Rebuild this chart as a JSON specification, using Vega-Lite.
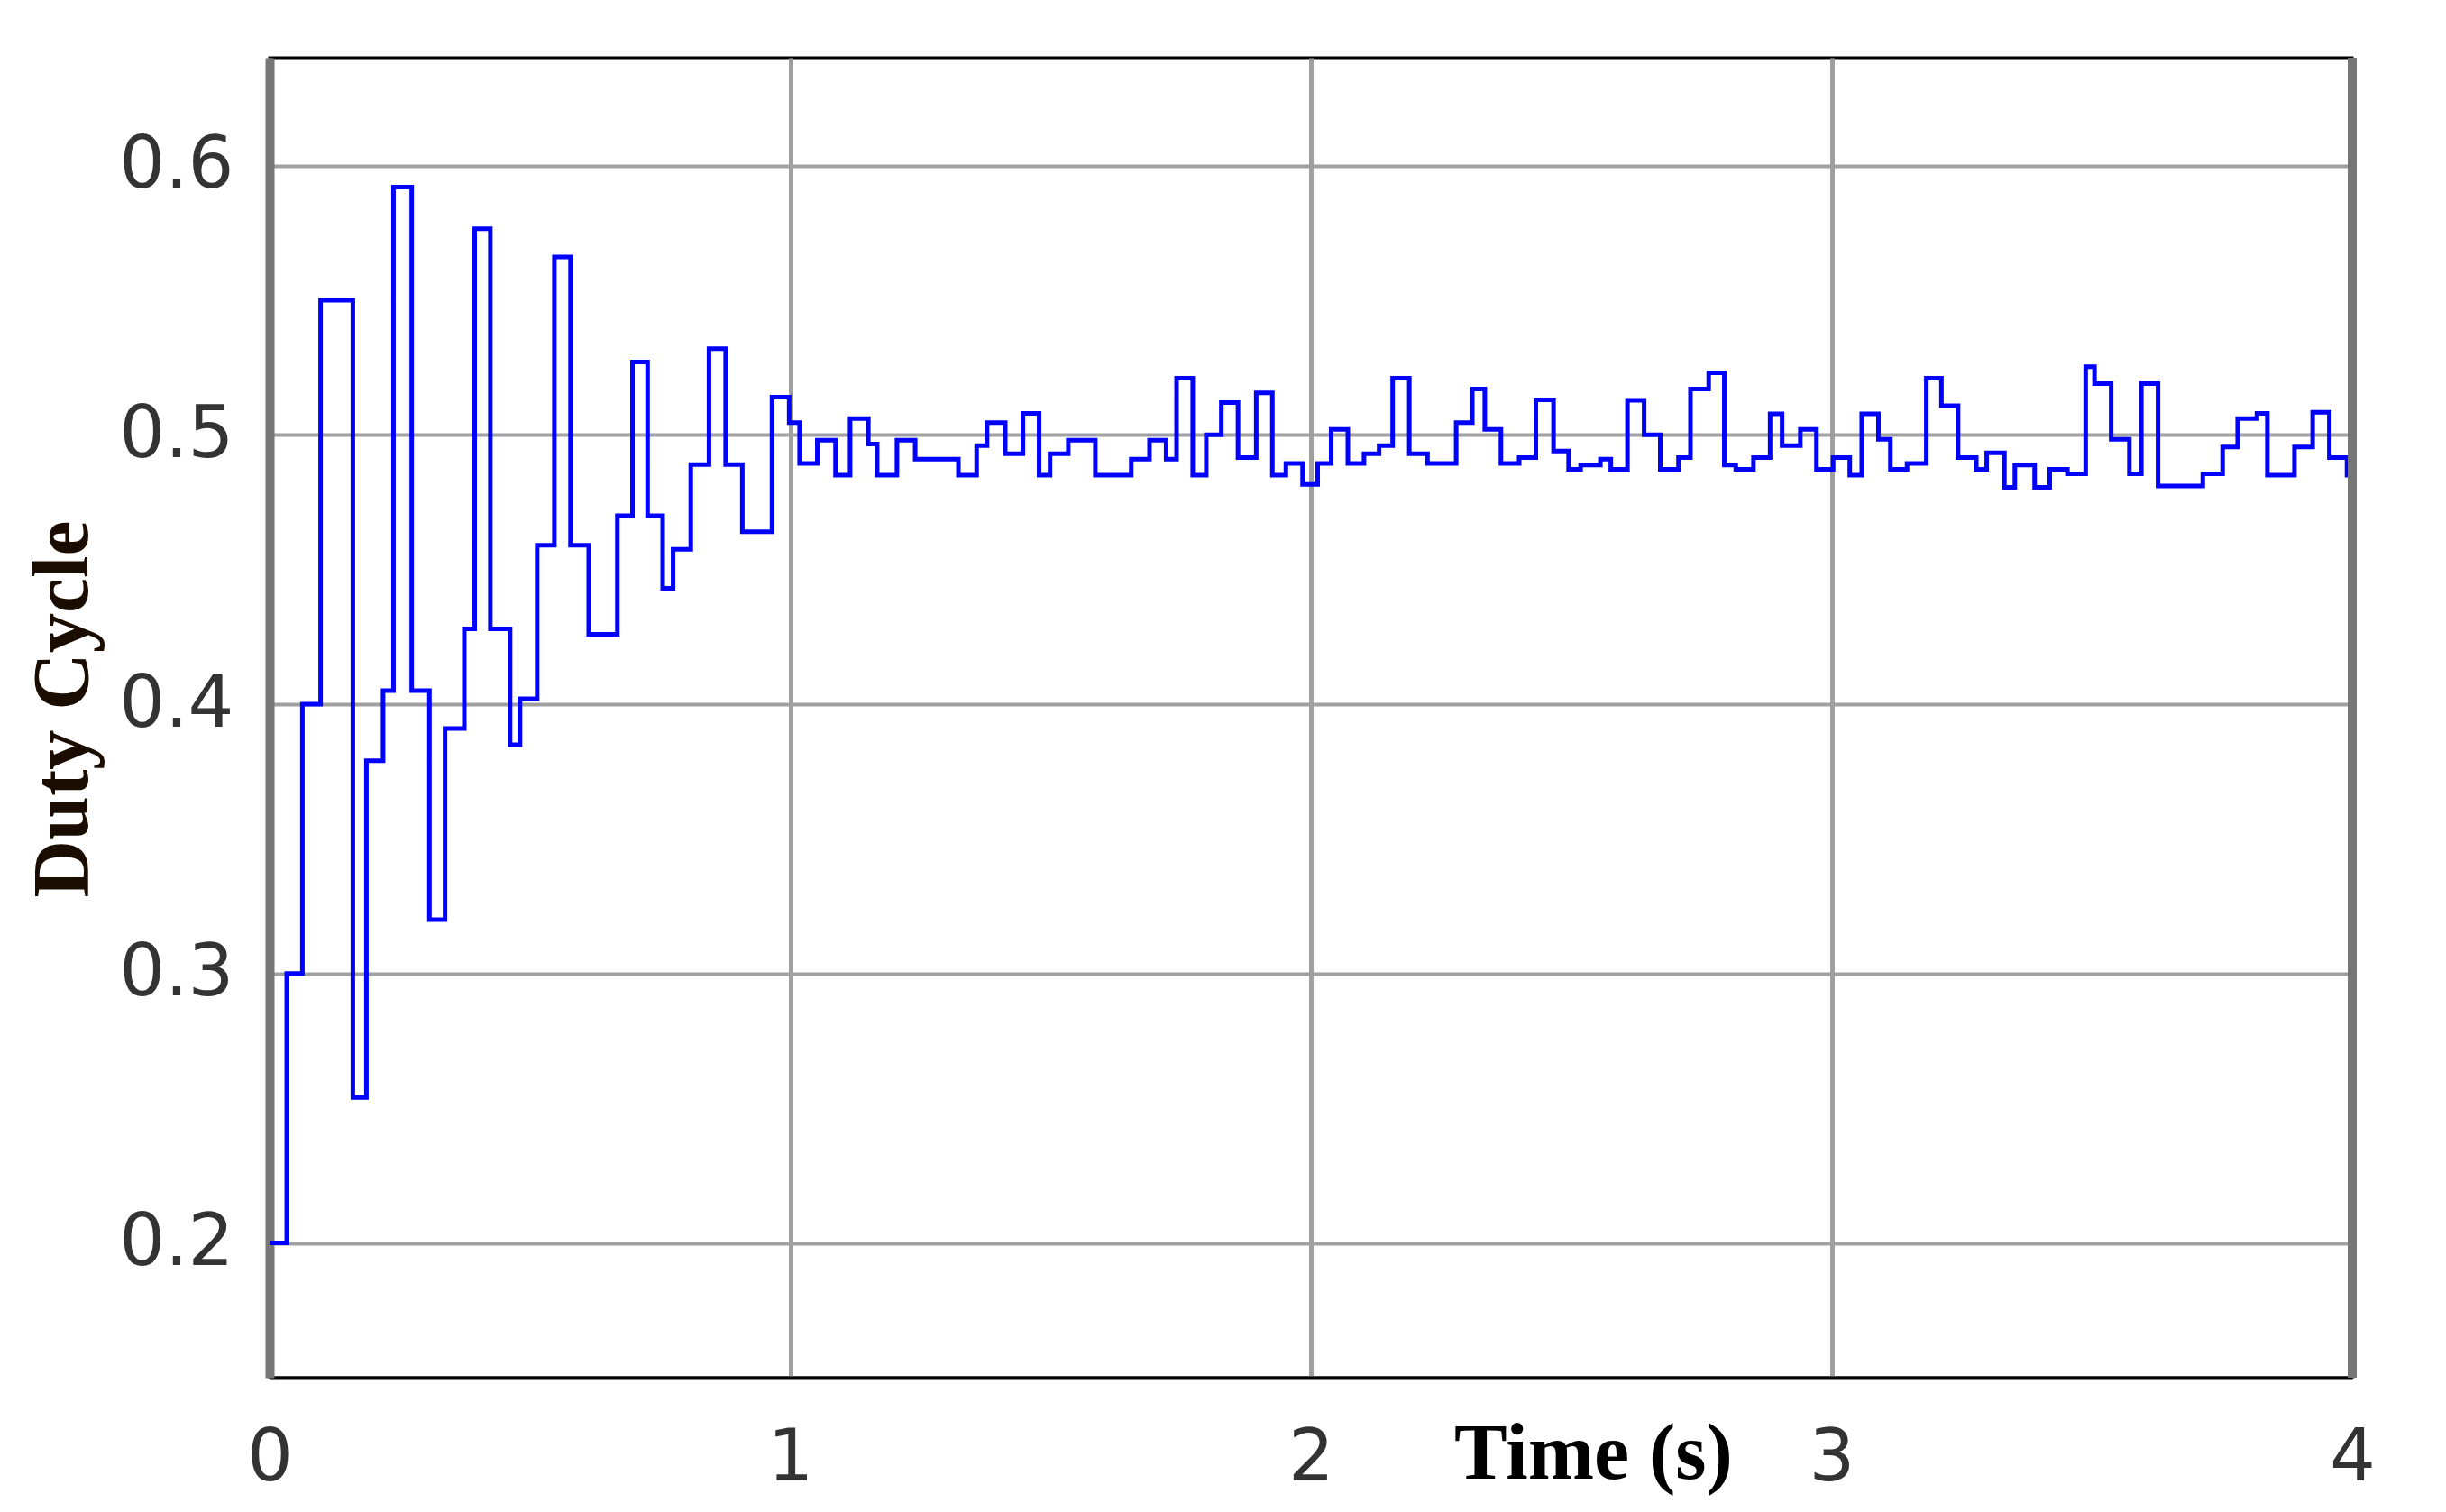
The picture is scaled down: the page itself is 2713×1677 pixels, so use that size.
{
  "$schema": "https://vega.github.io/schema/vega-lite/v6.json",
  "autosize": {"type": "none"},
  "width": 2310,
  "height": 1464,
  "padding": {"left": 299, "top": 64, "right": 104, "bottom": 149},
  "background": "white",
  "view": {"stroke": "black", "strokeWidth": 3},
  "data": {"values": [
    {"t": 0, "v": 0.2}, {"t": 0.033, "v": 0.3}, {"t": 0.063, "v": 0.4}, {"t": 0.098, "v": 0.55},
    {"t": 0.16, "v": 0.254}, {"t": 0.186, "v": 0.379}, {"t": 0.218, "v": 0.405}, {"t": 0.238, "v": 0.592},
    {"t": 0.273, "v": 0.405}, {"t": 0.307, "v": 0.32}, {"t": 0.337, "v": 0.391}, {"t": 0.374, "v": 0.428},
    {"t": 0.394, "v": 0.5765}, {"t": 0.424, "v": 0.428}, {"t": 0.462, "v": 0.385}, {"t": 0.481, "v": 0.402},
    {"t": 0.514, "v": 0.459}, {"t": 0.547, "v": 0.566}, {"t": 0.578, "v": 0.459}, {"t": 0.613, "v": 0.426},
    {"t": 0.668, "v": 0.47}, {"t": 0.697, "v": 0.527}, {"t": 0.726, "v": 0.47}, {"t": 0.755, "v": 0.443},
    {"t": 0.775, "v": 0.4575}, {"t": 0.809, "v": 0.489}, {"t": 0.844, "v": 0.532}, {"t": 0.876, "v": 0.489},
    {"t": 0.908, "v": 0.464}, {"t": 0.965, "v": 0.514}, {"t": 0.998, "v": 0.5045}, {"t": 1.018, "v": 0.4894},
    {"t": 1.052, "v": 0.498}, {"t": 1.087, "v": 0.485}, {"t": 1.115, "v": 0.506}, {"t": 1.15, "v": 0.4966},
    {"t": 1.167, "v": 0.485}, {"t": 1.205, "v": 0.498}, {"t": 1.24, "v": 0.491}, {"t": 1.323, "v": 0.485},
    {"t": 1.358, "v": 0.496}, {"t": 1.378, "v": 0.5045}, {"t": 1.413, "v": 0.493}, {"t": 1.447, "v": 0.508},
    {"t": 1.478, "v": 0.485}, {"t": 1.499, "v": 0.493}, {"t": 1.534, "v": 0.498}, {"t": 1.586, "v": 0.485},
    {"t": 1.655, "v": 0.491}, {"t": 1.69, "v": 0.498}, {"t": 1.722, "v": 0.491}, {"t": 1.742, "v": 0.521},
    {"t": 1.773, "v": 0.485}, {"t": 1.799, "v": 0.5}, {"t": 1.828, "v": 0.512}, {"t": 1.86, "v": 0.4916},
    {"t": 1.895, "v": 0.5156}, {"t": 1.926, "v": 0.485}, {"t": 1.952, "v": 0.4894}, {"t": 1.984, "v": 0.4816},
    {"t": 2.013, "v": 0.4894}, {"t": 2.039, "v": 0.502}, {"t": 2.071, "v": 0.4894}, {"t": 2.102, "v": 0.493},
    {"t": 2.131, "v": 0.496}, {"t": 2.157, "v": 0.521}, {"t": 2.189, "v": 0.493}, {"t": 2.224, "v": 0.4894},
    {"t": 2.279, "v": 0.5045}, {"t": 2.31, "v": 0.517}, {"t": 2.334, "v": 0.502}, {"t": 2.365, "v": 0.4894},
    {"t": 2.4, "v": 0.4916}, {"t": 2.432, "v": 0.513}, {"t": 2.466, "v": 0.494}, {"t": 2.495, "v": 0.4872},
    {"t": 2.518, "v": 0.4888}, {"t": 2.556, "v": 0.491}, {"t": 2.576, "v": 0.4872}, {"t": 2.608, "v": 0.5128},
    {"t": 2.64, "v": 0.5}, {"t": 2.671, "v": 0.4872}, {"t": 2.706, "v": 0.4916}, {"t": 2.729, "v": 0.517},
    {"t": 2.764, "v": 0.523}, {"t": 2.794, "v": 0.4888}, {"t": 2.816, "v": 0.4872}, {"t": 2.85, "v": 0.4916},
    {"t": 2.882, "v": 0.5078}, {"t": 2.905, "v": 0.496}, {"t": 2.94, "v": 0.502}, {"t": 2.971, "v": 0.4872},
    {"t": 3.003, "v": 0.4916}, {"t": 3.035, "v": 0.485}, {"t": 3.058, "v": 0.5078}, {"t": 3.09, "v": 0.4983},
    {"t": 3.113, "v": 0.4872}, {"t": 3.145, "v": 0.4894}, {"t": 3.182, "v": 0.521}, {"t": 3.211, "v": 0.5108},
    {"t": 3.243, "v": 0.4916}, {"t": 3.278, "v": 0.4872}, {"t": 3.298, "v": 0.4933}, {"t": 3.332, "v": 0.4805},
    {"t": 3.352, "v": 0.4888}, {"t": 3.39, "v": 0.4805}, {"t": 3.419, "v": 0.4872}, {"t": 3.453, "v": 0.4855},
    {"t": 3.488, "v": 0.5253}, {"t": 3.505, "v": 0.519}, {"t": 3.537, "v": 0.4983}, {"t": 3.572, "v": 0.4855},
    {"t": 3.595, "v": 0.519}, {"t": 3.627, "v": 0.481}, {"t": 3.713, "v": 0.4855}, {"t": 3.751, "v": 0.4955},
    {"t": 3.78, "v": 0.506}, {"t": 3.817, "v": 0.508}, {"t": 3.837, "v": 0.485}, {"t": 3.889, "v": 0.4955},
    {"t": 3.924, "v": 0.5084}, {"t": 3.956, "v": 0.4916}, {"t": 3.99, "v": 0.485}, {"t": 4.0, "v": 0.485}
  ]},
  "layer": [
    {
      "mark": {"type": "line", "interpolate": "step-after", "color": "#0000ff", "strokeWidth": 5, "clip": true},
      "encoding": {
        "x": {
          "field": "t", "type": "quantitative",
          "scale": {"domain": [0, 4], "nice": false, "zero": false},
          "axis": {
            "values": [0, 1, 2, 3, 4], "format": "d",
            "title": "Time (s)",
            "titleFont": "Liberation Serif", "titleFontWeight": "bold", "titleFontSize": 88, "titleColor": "black",
            "titleX": 1468, "titleY": 85, "titleAlign": "center", "titleBaseline": "middle", "titleAnchor": null,
            "labelFont": "DejaVu Sans", "labelFontSize": 80, "labelColor": "#333333", "labelPadding": 50,
            "labelFlush": false, "labelOverlap": false, "labelBound": false,
            "ticks": false, "domainColor": "black", "domainWidth": 4,
            "grid": true, "gridColor": "#a0a0a0", "gridWidth": 5
          }
        },
        "y": {
          "field": "v", "type": "quantitative",
          "scale": {"domain": [0.15, 0.64], "nice": false, "zero": false},
          "axis": {
            "values": [0.2, 0.3, 0.4, 0.5, 0.6], "format": ".1f",
            "title": "Duty Cycle",
            "titleFont": "Liberation Serif", "titleFontWeight": "bold", "titleFontSize": 88, "titleColor": "#1a0d00",
            "titleX": -203, "titleY": 722, "titleAngle": -90, "titleAlign": "center", "titleBaseline": "alphabetic", "titleAnchor": null,
            "labelFont": "DejaVu Sans", "labelFontSize": 80, "labelColor": "#333333", "labelPadding": 40,
            "labelFlush": false,
            "ticks": false, "domainColor": "#777777", "domainWidth": 10,
            "grid": true, "gridColor": "#a0a0a0", "gridWidth": 4
          }
        }
      }
    },
    {
      "mark": {"type": "rule", "color": "#777777", "strokeWidth": 10},
      "encoding": {"x": {"datum": 4}}
    }
  ]
}
